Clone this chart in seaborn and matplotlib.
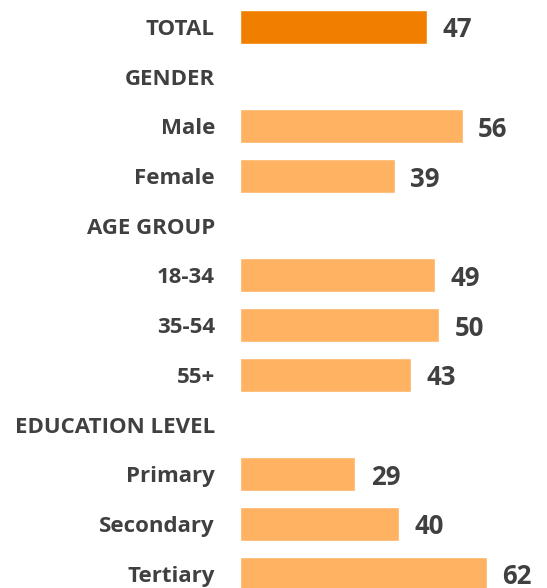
import numpy as np
import pandas as pd
import seaborn as sns
import matplotlib.pyplot as plt

# Data (headers have no bar)
labels = ["TOTAL", "GENDER", "Male", "Female", "AGE GROUP", "18-34", "35-54", "55+",
          "EDUCATION LEVEL", "Primary", "Secondary", "Tertiary"]
values = [47, np.nan, 56, 39, np.nan, 49, 50, 43, np.nan, 29, 40, 62]
groups = ["total", "", "other", "other", "", "other", "other", "other", "", "other", "other", "other"]

data = pd.DataFrame({"label": labels, "value": values, "group": groups})
bars = data.dropna()

sns.set_theme(style="white")
plt.rcParams["font.family"] = ["Open Sans", "DejaVu Sans"]

fig = plt.figure(figsize=(5.47, 5.88), dpi=100)
ax = fig.add_axes([240 / 547, 0, 1 - 240 / 547, 1])

sns.barplot(data=bars, x="value", y="label", hue="group", order=labels,
            hue_order=["total", "other"],
            palette={"total": "#F07F00", "other": "#FFB261"},
            saturation=1, width=0.684, legend=False, ax=ax)

for c in ax.containers:
    txts = ax.bar_label(c, fmt="{:.0f}", padding=11, fontsize=18.5,
                        fontweight="bold", color="#404040")
    for t in txts:
        t.set_va("center_baseline")

ax.set_xlim(0, 307 / 3.98)
ax.set_ylim(11.29, -0.543)
sns.despine(ax=ax, left=True, bottom=True)
ax.set_xticks([])
ax.set_xlabel("")
ax.set_ylabel("")
ax.tick_params(axis="y", length=0, pad=18)
for t in ax.get_yticklabels():
    t.set_fontsize(16)
    t.set_fontweight("bold")
    t.set_color("#404040")

plt.savefig("out.png", dpi=100)
